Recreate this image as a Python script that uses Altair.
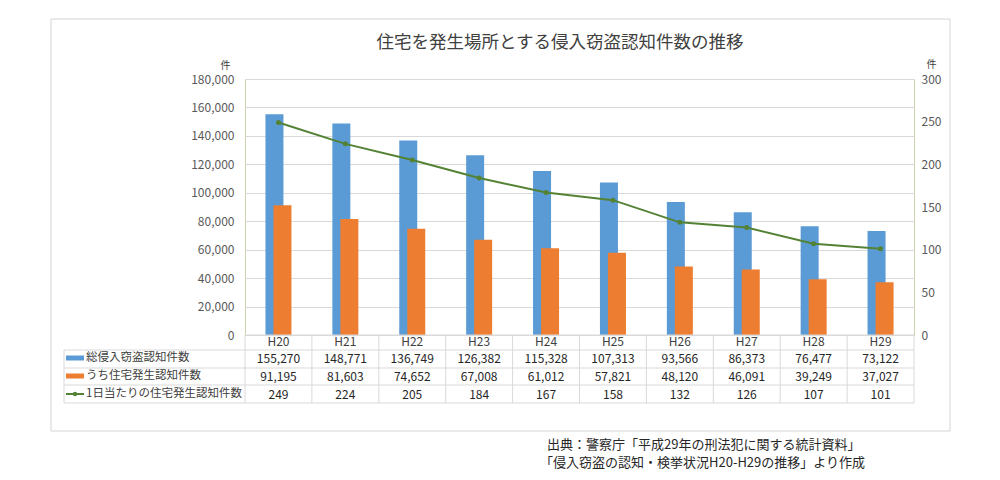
import altair as alt
import pandas as pd

# ---------------- data ----------------
years = ["H20", "H21", "H22", "H23", "H24", "H25", "H26", "H27", "H28", "H29"]
total = [155270, 148771, 136749, 126382, 115328, 107313, 93566, 86373, 76477, 73122]
house = [91195, 81603, 74652, 67008, 61012, 57821, 48120, 46091, 39249, 37027]
perday = [249, 224, 205, 184, 167, 158, 132, 126, 107, 101]
series_names = ["総侵入窃盗認知件数", "うち住宅発生認知件数", "1日当たりの住宅発生認知件数"]
title_text = "住宅を発生場所とする侵入窃盗認知件数の推移"
source_lines = ["出典：警察庁「平成29年の刑法犯に関する統計資料」",
                "「侵入窃盗の認知・検挙状況H20-H29の推移」より作成"]
left_ticks = [0, 20000, 40000, 60000, 80000, 100000, 120000, 140000, 160000, 180000]
right_ticks = [0, 50, 100, 150, 200, 250, 300]
unit_label = "件"

df = pd.DataFrame({"year": years, "total": total, "house": house, "perday": perday})
one = pd.DataFrame({"k": [0]})

# ---------------- layout / style ----------------
W, H = 669, 256
BAND = W / len(years)
FONT = "Noto Sans CJK JP"
BLUE, ORANGE, GREEN = "#5b9bd5", "#ed7d31", "#548235"
GRID = "#d9d9d9"
TXT = "#404040"

row_y = [279, 297, 315]
hlines = [271, 289, 306, 324]
TABLE_LEFT = -181

xs = alt.X("year:N", sort=years)

# ---------------- chart layers ----------------
frame = alt.Chart(one).mark_rect(fill="transparent", stroke="#d4d4d4", strokeWidth=1).encode(
    x=alt.value(-194), x2=alt.value(705), y=alt.value(-60), y2=alt.value(352)
)

blue = alt.Chart(df).mark_bar(width=18, xOffset=-4, color=BLUE).encode(
    x=alt.X("year:N", sort=years,
            scale=alt.Scale(paddingInner=0, paddingOuter=0),
            axis=alt.Axis(title=None, ticks=False, domain=False, labelAngle=0,
                          labelPadding=6, labelBaseline="middle", labelFontSize=12,
                          labelColor=TXT, labelFont=FONT)),
    y=alt.Y("total:Q", scale=alt.Scale(domain=[0, 180000], nice=False),
            axis=alt.Axis(orient="left", values=left_ticks, format=",.0f", grid=True,
                          gridColor=GRID, ticks=False, domain=False, labelPadding=11,
                          labelFontSize=12, labelColor="#595959", labelFont=FONT,
                          title=unit_label, titleAngle=0, titleX=-20, titleY=-14,
                          titleFontSize=10, titleFontWeight="normal", titleColor=TXT,
                          titleFont=FONT, titleAlign="center", titleBaseline="middle")),
)

orange = alt.Chart(df).mark_bar(width=18, xOffset=4, color=ORANGE).encode(
    x=xs,
    y=alt.Y("house:Q", scale=alt.Scale(domain=[0, 180000], nice=False), axis=None),
)

line = alt.Chart(df).mark_line(
    color=GREEN, strokeWidth=2,
    point=alt.OverlayMarkDef(color=GREEN, size=25, filled=True),
).encode(
    x=xs,
    y=alt.Y("perday:Q", scale=alt.Scale(domain=[0, 300], nice=False),
            axis=alt.Axis(orient="right", values=right_ticks, format="d", grid=False,
                          ticks=False, domain=False, labelPadding=7, labelFontSize=12,
                          labelColor="#595959", labelFont=FONT,
                          title=unit_label, titleAngle=0, titleX=17, titleY=-15,
                          titleFontSize=10, titleFontWeight="normal", titleColor=TXT,
                          titleFont=FONT, titleAlign="center", titleBaseline="middle")),
)

layers = [frame, blue, orange, line]

# table grid lines
layers.append(alt.Chart(one).mark_rule(color=GRID).encode(
    x=alt.value(0), x2=alt.value(W), y=alt.value(H)))
for yy in hlines:
    layers.append(alt.Chart(one).mark_rule(color=GRID).encode(
        x=alt.value(TABLE_LEFT), x2=alt.value(W), y=alt.value(yy)))
layers.append(alt.Chart(one).mark_rule(color=GRID).encode(
    x=alt.value(0), y=alt.value(H), y2=alt.value(hlines[-1])))
layers.append(alt.Chart(one).mark_rule(color=GRID).encode(
    x=alt.value(TABLE_LEFT), y=alt.value(hlines[0]), y2=alt.value(hlines[-1])))
layers.append(alt.Chart(df).mark_rule(color=GRID, xOffset=BAND / 2).encode(
    x=xs, y=alt.value(H), y2=alt.value(hlines[-1])))

# table values
for field, fmt, yy in zip(["total", "house", "perday"], [",.0f", ",.0f", "d"], row_y):
    layers.append(alt.Chart(df).mark_text(
        font=FONT, fontSize=12, color="#262626", baseline="middle").encode(
        x=xs, y=alt.value(yy + 1), text=alt.Text(f"{field}:Q", format=fmt)))

# legend keys + row labels
layers.append(alt.Chart(one).mark_rect(color=BLUE).encode(
    x=alt.value(-179), x2=alt.value(-161), y=alt.value(row_y[0] - 2.5), y2=alt.value(row_y[0] + 2.5)))
layers.append(alt.Chart(one).mark_rect(color=ORANGE).encode(
    x=alt.value(-179), x2=alt.value(-161), y=alt.value(row_y[1] - 2.5), y2=alt.value(row_y[1] + 2.5)))
layers.append(alt.Chart(one).mark_rule(color=GREEN, strokeWidth=2).encode(
    x=alt.value(-179), x2=alt.value(-161), y=alt.value(row_y[2])))
layers.append(alt.Chart(one).mark_point(color=GREEN, filled=True, size=20, opacity=1).encode(
    x=alt.value(-170), y=alt.value(row_y[2])))
for name, yy in zip(series_names, row_y):
    layers.append(alt.Chart(one).mark_text(
        font=FONT, fontSize=11.5, color=TXT, align="left", baseline="middle", text=name).encode(
        x=alt.value(-159), y=alt.value(yy)))

# title
layers.append(alt.Chart(one).mark_text(
    font=FONT, fontSize=17.5, color=TXT, align="center", baseline="middle", text=title_text).encode(
    x=alt.value(315), y=alt.value(-36)))

# source note
for i, (s, yy) in enumerate(zip(source_lines, [366, 384])):
    layers.append(alt.Chart(one).mark_text(
        font=FONT, fontSize=13, color="#262626", align="left", baseline="middle", text=s).encode(
        x=alt.value(302 if i == 0 else 295), y=alt.value(yy)))

chart = alt.layer(*layers).resolve_scale(y="independent").properties(
    width=W, height=H,
    padding={"left": 42, "top": 10, "right": 5, "bottom": 5},
    background="white",
).configure_view(stroke="#c6d5ab")

chart.save("out.html", embed_options={"renderer": "svg", "actions": False})
